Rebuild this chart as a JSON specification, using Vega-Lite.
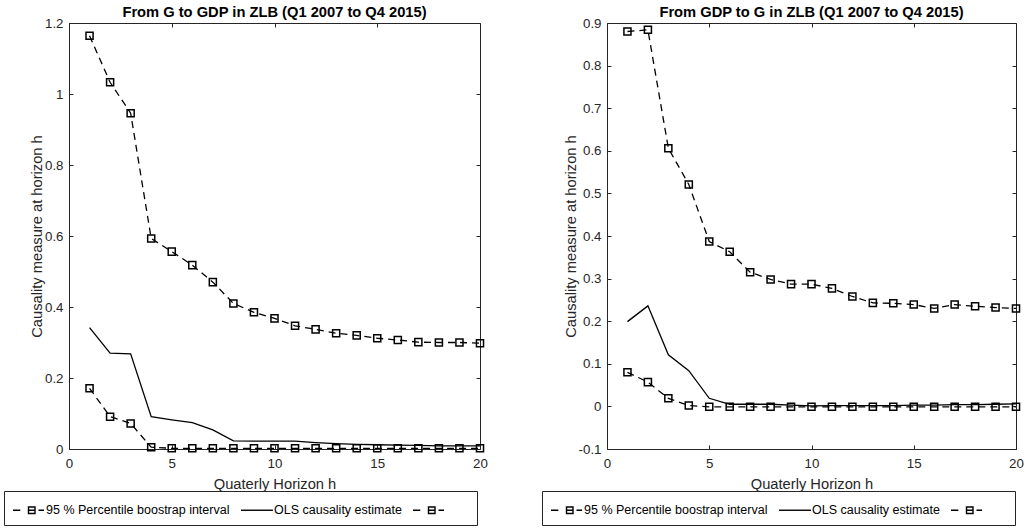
{
  "$schema": "https://vega.github.io/schema/vega-lite/v6.json",
  "padding": {"left": 3, "top": 4, "right": 5, "bottom": 1},
  "background": "white",
  "bounds": "flush",
  "spacing": 127,
  "config": {
    "font": "Liberation Sans",
    "view": {"stroke": "#262626", "strokeWidth": 1},
    "axis": {
      "grid": false, "domain": false, "ticks": true, "tickSize": -4, "tickColor": "#262626", "labelFlush": false,
      "labelFont": "Liberation Sans", "labelFontSize": 13.3, "labelColor": "#262626",
      "titleFont": "Liberation Sans", "titleFontSize": 14.7, "titleFontWeight": "normal", "titleColor": "#262626"
    },
    "legend": {
      "orient": "none", "legendY": 468, "direction": "horizontal", "title": null,
      "padding": 8, "strokeColor": "#262626", "fillColor": "white",
      "labelFont": "Liberation Sans", "labelFontSize": 12.5, "labelColor": "black", "labelLimit": 0,
      "symbolSize": 400, "labelOffset": 12, "columnPadding": 8
    },
    "title": {"font": "Liberation Sans", "fontSize": 14.7, "fontWeight": "bold", "color": "black", "frame": "group", "offset": -4}
  },
  "datasets": {
    "L": [
      {"h":1,"v":1.164,"s":"upper"},{"h":2,"v":1.033,"s":"upper"},{"h":3,"v":0.946,"s":"upper"},{"h":4,"v":0.593,"s":"upper"},{"h":5,"v":0.556,"s":"upper"},
      {"h":6,"v":0.518,"s":"upper"},{"h":7,"v":0.47,"s":"upper"},{"h":8,"v":0.41,"s":"upper"},{"h":9,"v":0.385,"s":"upper"},{"h":10,"v":0.368,"s":"upper"},
      {"h":11,"v":0.347,"s":"upper"},{"h":12,"v":0.337,"s":"upper"},{"h":13,"v":0.326,"s":"upper"},{"h":14,"v":0.32,"s":"upper"},{"h":15,"v":0.312,"s":"upper"},
      {"h":16,"v":0.307,"s":"upper"},{"h":17,"v":0.301,"s":"upper"},{"h":18,"v":0.3,"s":"upper"},{"h":19,"v":0.3,"s":"upper"},{"h":20,"v":0.298,"s":"upper"},
      {"h":1,"v":0.171,"s":"lower"},{"h":2,"v":0.091,"s":"lower"},{"h":3,"v":0.072,"s":"lower"},{"h":4,"v":0.005,"s":"lower"},{"h":5,"v":0.002,"s":"lower"},
      {"h":6,"v":0.002,"s":"lower"},{"h":7,"v":0.002,"s":"lower"},{"h":8,"v":0.002,"s":"lower"},{"h":9,"v":0.002,"s":"lower"},{"h":10,"v":0.002,"s":"lower"},
      {"h":11,"v":0.002,"s":"lower"},{"h":12,"v":0.002,"s":"lower"},{"h":13,"v":0.002,"s":"lower"},{"h":14,"v":0.002,"s":"lower"},{"h":15,"v":0.002,"s":"lower"},
      {"h":16,"v":0.002,"s":"lower"},{"h":17,"v":0.002,"s":"lower"},{"h":18,"v":0.002,"s":"lower"},{"h":19,"v":0.002,"s":"lower"},{"h":20,"v":0.002,"s":"lower"},
      {"h":1,"v":0.342,"s":"ols"},{"h":2,"v":0.27,"s":"ols"},{"h":3,"v":0.268,"s":"ols"},{"h":4,"v":0.091,"s":"ols"},{"h":5,"v":0.082,"s":"ols"},
      {"h":6,"v":0.074,"s":"ols"},{"h":7,"v":0.054,"s":"ols"},{"h":8,"v":0.023,"s":"ols"},{"h":9,"v":0.022,"s":"ols"},{"h":10,"v":0.022,"s":"ols"},
      {"h":11,"v":0.022,"s":"ols"},{"h":12,"v":0.018,"s":"ols"},{"h":13,"v":0.015,"s":"ols"},{"h":14,"v":0.013,"s":"ols"},{"h":15,"v":0.012,"s":"ols"},
      {"h":16,"v":0.011,"s":"ols"},{"h":17,"v":0.01,"s":"ols"},{"h":18,"v":0.009,"s":"ols"},{"h":19,"v":0.009,"s":"ols"},{"h":20,"v":0.009,"s":"ols"}
    ],
    "R": [
      {"h":1,"v":0.88,"s":"upper"},{"h":2,"v":0.884,"s":"upper"},{"h":3,"v":0.606,"s":"upper"},{"h":4,"v":0.521,"s":"upper"},{"h":5,"v":0.387,"s":"upper"},
      {"h":6,"v":0.363,"s":"upper"},{"h":7,"v":0.315,"s":"upper"},{"h":8,"v":0.298,"s":"upper"},{"h":9,"v":0.287,"s":"upper"},{"h":10,"v":0.287,"s":"upper"},
      {"h":11,"v":0.277,"s":"upper"},{"h":12,"v":0.258,"s":"upper"},{"h":13,"v":0.243,"s":"upper"},{"h":14,"v":0.242,"s":"upper"},{"h":15,"v":0.239,"s":"upper"},
      {"h":16,"v":0.23,"s":"upper"},{"h":17,"v":0.239,"s":"upper"},{"h":18,"v":0.235,"s":"upper"},{"h":19,"v":0.232,"s":"upper"},{"h":20,"v":0.23,"s":"upper"},
      {"h":1,"v":0.08,"s":"lower"},{"h":2,"v":0.057,"s":"lower"},{"h":3,"v":0.019,"s":"lower"},{"h":4,"v":0.002,"s":"lower"},{"h":5,"v":-0.001,"s":"lower"},
      {"h":6,"v":-0.001,"s":"lower"},{"h":7,"v":-0.001,"s":"lower"},{"h":8,"v":-0.001,"s":"lower"},{"h":9,"v":-0.001,"s":"lower"},{"h":10,"v":-0.001,"s":"lower"},
      {"h":11,"v":-0.001,"s":"lower"},{"h":12,"v":-0.001,"s":"lower"},{"h":13,"v":-0.001,"s":"lower"},{"h":14,"v":-0.001,"s":"lower"},{"h":15,"v":-0.001,"s":"lower"},
      {"h":16,"v":-0.001,"s":"lower"},{"h":17,"v":-0.001,"s":"lower"},{"h":18,"v":-0.001,"s":"lower"},{"h":19,"v":-0.001,"s":"lower"},{"h":20,"v":-0.001,"s":"lower"},
      {"h":1,"v":0.199,"s":"ols"},{"h":2,"v":0.236,"s":"ols"},{"h":3,"v":0.121,"s":"ols"},{"h":4,"v":0.084,"s":"ols"},{"h":5,"v":0.019,"s":"ols"},
      {"h":6,"v":0.005,"s":"ols"},{"h":7,"v":0.005,"s":"ols"},{"h":8,"v":0.005,"s":"ols"},{"h":9,"v":0.003,"s":"ols"},{"h":10,"v":0.001,"s":"ols"},
      {"h":11,"v":0.002,"s":"ols"},{"h":12,"v":0.002,"s":"ols"},{"h":13,"v":0.002,"s":"ols"},{"h":14,"v":0.002,"s":"ols"},{"h":15,"v":0.003,"s":"ols"},
      {"h":16,"v":0.003,"s":"ols"},{"h":17,"v":0.004,"s":"ols"},{"h":18,"v":0.004,"s":"ols"},{"h":19,"v":0.005,"s":"ols"},{"h":20,"v":0.006,"s":"ols"}
    ]
  },
  "resolve": {"scale": {"color": "independent"}, "legend": {"color": "independent"}},
  "hconcat": [
    {
      "width": 411, "height": 426,
      "title": {"text": "From G to GDP in ZLB (Q1 2007 to Q4 2015)"},
      "data": {"name": "L"},
      "layer": [
        {
          "transform": [{"filter": "datum.s != 'ols'"}],
          "mark": {"type": "line", "color": "black", "strokeWidth": 1.3, "strokeDash": [7, 5]},
          "encoding": {
            "x": {"field": "h", "type": "quantitative", "scale": {"domain": [0, 20], "nice": false},
                  "axis": {"orient": "bottom", "values": [0, 5, 10, 15, 20], "title": "Quaterly Horizon h", "labelPadding": 11, "titlePadding": 7}},
            "y": {"field": "v", "type": "quantitative", "scale": {"domain": [0, 1.2], "nice": false},
                  "axis": {"orient": "left", "values": [0, 0.2, 0.4, 0.6, 0.8, 1, 1.2], "labelExpr": "replace(format(datum.value,'~g'),'−','-')", "title": "Causality measure at horizon h", "labelPadding": 10, "titlePadding": 0}},
            "detail": {"field": "s", "type": "nominal"}
          }
        },
        {
          "transform": [{"filter": "datum.s != 'ols'"}],
          "mark": {"type": "point", "shape": "square", "filled": false, "color": "black", "size": 50, "strokeWidth": 1.5, "opacity": 1},
          "encoding": {
            "x": {"field": "h", "type": "quantitative", "scale": {"domain": [0, 20], "nice": false},
                  "axis": {"orient": "top", "values": [0, 5, 10, 15, 20], "labels": false, "title": null}},
            "y": {"field": "v", "type": "quantitative", "scale": {"domain": [0, 1.2], "nice": false},
                  "axis": {"orient": "right", "values": [0, 0.2, 0.4, 0.6, 0.8, 1, 1.2], "labels": false, "title": null}}
          }
        },
        {
          "transform": [{"filter": "datum.s == 'ols'"}],
          "mark": {"type": "line", "strokeWidth": 1.3},
          "encoding": {
            "x": {"field": "h", "type": "quantitative", "scale": {"domain": [0, 20], "nice": false}, "axis": null},
            "y": {"field": "v", "type": "quantitative", "scale": {"domain": [0, 1.2], "nice": false}, "axis": null},
            "color": {"field": "s", "type": "nominal", "scale": {"domain": ["upper", "ols", "lower"], "range": ["black", "black", "black"]},
              "legend": {
                "legendX": -65,
                "labelExpr": "datum.value == 'upper' ? '95 % Percentile boostrap interval' : datum.value == 'ols' ? 'OLS causality estimate' : ''",
                "encode": {"symbols": {"update": {
                  "shape": {"signal": "datum.value == 'ols' ? 'M-1,0H2.2' : datum.value == 'upper' ? 'M-1,0H-0.27M0.55,-0.32H1.2V0.32H0.55ZM0.55,0H1.2M1.55,0H2.1' : 'M-1.8,0H-1.07M-0.25,-0.32H0.4V0.32H-0.25ZM-0.25,0H0.4M0.75,0H1.3M3.5,0'"},
                  "stroke": {"value": "black"}, "strokeWidth": {"value": 1.4}, "fill": {"value": "transparent"},
                  "strokeDash": {"value": []}, "opacity": {"value": 1}
                }}}
              }
            }
          }
        }
      ],
      "resolve": {"axis": {"x": "independent", "y": "independent"}}
    },
    {
      "width": 409, "height": 426,
      "title": {"text": "From GDP to G in ZLB (Q1 2007 to Q4 2015)"},
      "data": {"name": "R"},
      "layer": [
        {
          "transform": [{"filter": "datum.s != 'ols'"}],
          "mark": {"type": "line", "color": "black", "strokeWidth": 1.3, "strokeDash": [7, 5]},
          "encoding": {
            "x": {"field": "h", "type": "quantitative", "scale": {"domain": [0, 20], "nice": false},
                  "axis": {"orient": "bottom", "values": [0, 5, 10, 15, 20], "title": "Quaterly Horizon h", "labelPadding": 11, "titlePadding": 7}},
            "y": {"field": "v", "type": "quantitative", "scale": {"domain": [-0.1, 0.9], "nice": false},
                  "axis": {"orient": "left", "values": [-0.1, 0, 0.1, 0.2, 0.3, 0.4, 0.5, 0.6, 0.7, 0.8, 0.9], "labelExpr": "replace(format(datum.value,'~g'),'−','-')", "title": "Causality measure at horizon h", "labelPadding": 10, "titlePadding": 0}},
            "detail": {"field": "s", "type": "nominal"}
          }
        },
        {
          "transform": [{"filter": "datum.s != 'ols'"}],
          "mark": {"type": "point", "shape": "square", "filled": false, "color": "black", "size": 50, "strokeWidth": 1.5, "opacity": 1},
          "encoding": {
            "x": {"field": "h", "type": "quantitative", "scale": {"domain": [0, 20], "nice": false},
                  "axis": {"orient": "top", "values": [0, 5, 10, 15, 20], "labels": false, "title": null}},
            "y": {"field": "v", "type": "quantitative", "scale": {"domain": [-0.1, 0.9], "nice": false},
                  "axis": {"orient": "right", "values": [-0.1, 0, 0.1, 0.2, 0.3, 0.4, 0.5, 0.6, 0.7, 0.8, 0.9], "labels": false, "title": null}}
          }
        },
        {
          "transform": [{"filter": "datum.s == 'ols'"}],
          "mark": {"type": "line", "strokeWidth": 1.3},
          "encoding": {
            "x": {"field": "h", "type": "quantitative", "scale": {"domain": [0, 20], "nice": false}, "axis": null},
            "y": {"field": "v", "type": "quantitative", "scale": {"domain": [-0.1, 0.9], "nice": false}, "axis": null},
            "color": {"field": "s", "type": "nominal", "scale": {"domain": ["upper", "ols", "lower"], "range": ["black", "black", "black"]},
              "legend": {
                "legendX": -65,
                "labelExpr": "datum.value == 'upper' ? '95 % Percentile boostrap interval' : datum.value == 'ols' ? 'OLS causality estimate' : ''",
                "encode": {"symbols": {"update": {
                  "shape": {"signal": "datum.value == 'ols' ? 'M-1,0H2.2' : datum.value == 'upper' ? 'M-1,0H-0.27M0.55,-0.32H1.2V0.32H0.55ZM0.55,0H1.2M1.55,0H2.1' : 'M-1.8,0H-1.07M-0.25,-0.32H0.4V0.32H-0.25ZM-0.25,0H0.4M0.75,0H1.3M3.5,0'"},
                  "stroke": {"value": "black"}, "strokeWidth": {"value": 1.4}, "fill": {"value": "transparent"},
                  "strokeDash": {"value": []}, "opacity": {"value": 1}
                }}}
              }
            }
          }
        }
      ],
      "resolve": {"axis": {"x": "independent", "y": "independent"}}
    }
  ]
}
